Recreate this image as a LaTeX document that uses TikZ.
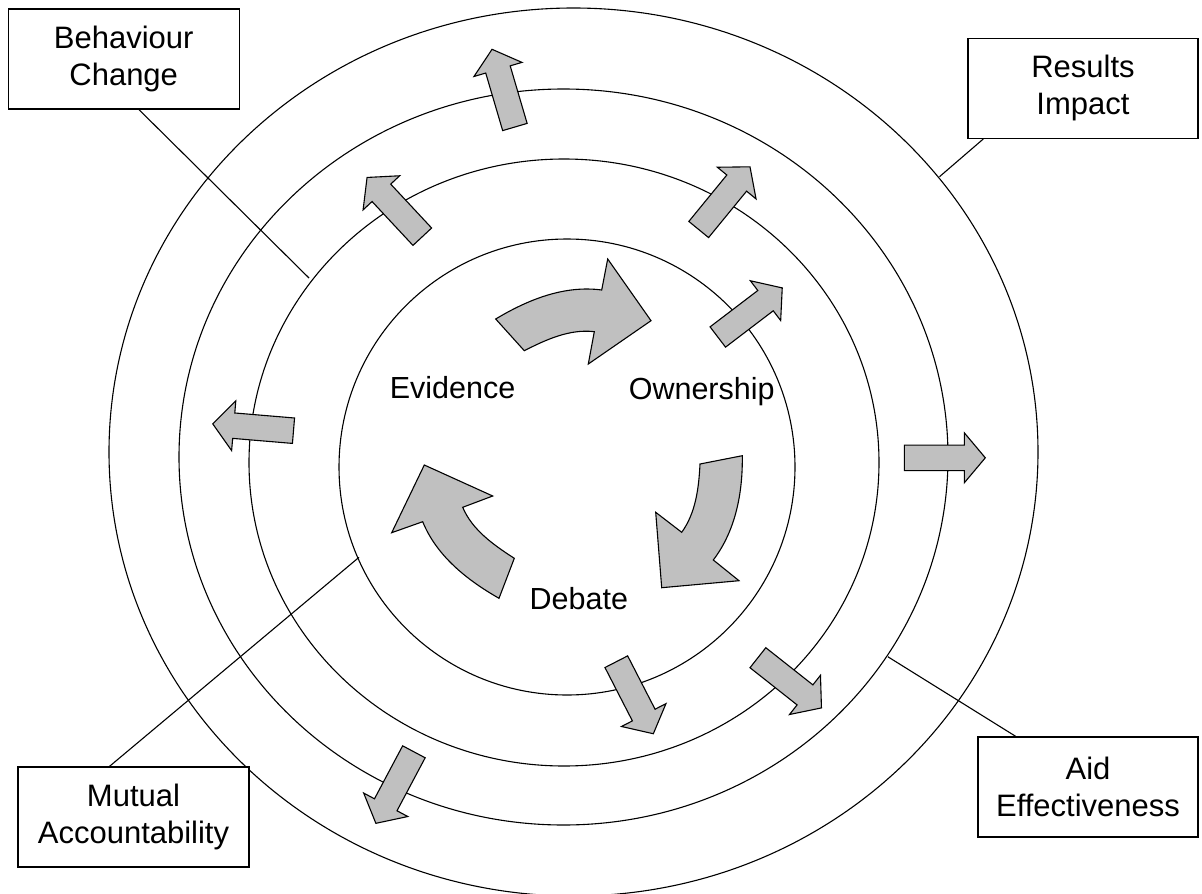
\documentclass[tikz,border=0pt]{standalone}
\usepackage{fontspec}
\setmainfont{Liberation Sans}
\usetikzlibrary{calc}
\definecolor{arrowgray}{HTML}{C0C0C0}
\tikzset{
  ring/.style={draw=black, line width=1.1pt},
  grayarrow/.style={fill=arrowgray, draw=black, line width=1.1pt, line join=miter},
  labelbox/.style={draw=black, fill=white, line width=1.4pt, align=center, inner sep=0pt,
    minimum height=100pt, font=\fontsize{31}{37}\selectfont},
  innerlabel/.style={font=\fontsize{30.5}{36}\selectfont, anchor=base, inner sep=0pt},
  leader/.style={draw=black, line width=1.1pt},
  straightarrow/.pic={\path[grayarrow] (0,-12.75) -- (60,-12.75) -- (60,-25) -- (81,0) -- (60,25) -- (60,12.75) -- (0,12.75) -- cycle;}
}
\begin{document}
\begin{tikzpicture}[x=1pt, y=-1pt]
\useasboundingbox (0,0) rectangle (1202,894);
\fill[white] (0,0) rectangle (1202,894);

% rings
\draw[ring] (567,467) ellipse [x radius=228pt, y radius=228pt];
\draw[ring] (564,462.5) ellipse [x radius=315pt, y radius=303.5pt];
\draw[ring] (563.5,457) ellipse [x radius=384.5pt, y radius=368pt];
\draw[ring] (573.5,452) ellipse [x radius=464.5pt, y radius=444pt];

% boxes
\node[labelbox, minimum width=231pt] (beh) at (123.7,59) {Behaviour\\Change};
\node[labelbox, minimum width=230pt] (res) at (1083,88.3) {Results\\Impact};
\node[labelbox, minimum width=220pt] (aid) at (1088,787) {Aid\\Effectiveness};
\node[labelbox, minimum width=231pt] (mut) at (133.5,817) {Mutual\\Accountability};

% leader line end points on rings
\coordinate (behE) at (309,278);
\coordinate (resE) at (939.5,176.7);
\coordinate (aidE) at (887.8,656.7);
\coordinate (mutE) at (359,557.3);

\draw[leader] ($(beh.south west)!0.566!(beh.south east)$) -- (behE);
\draw[leader] ($(res.south west)!0.069!(res.south east)$) -- (resE);
\draw[leader] ($(aid.north west)!0.173!(aid.north east)$) -- (aidE);
\draw[leader] ($(mut.north west)!0.397!(mut.north east)$) -- (mutE);

% straight outward arrows
\pic[rotate=106.4] (a1) at (514.9,127) {straightarrow};
\pic[rotate=133] (a2) at (422.3,236.7) {straightarrow};
\pic[rotate=175.2] (a3) at (293.5,430.7) {straightarrow};
\pic[rotate=37.3] (a4) at (717.8,337) {straightarrow};
\pic[rotate=50.7] (a5) at (698.7,229.5) {straightarrow};
\pic[rotate=0] (a6) at (904.3,457.8) {straightarrow};
\pic[rotate=-38.3] (a7) at (757.9,657.7) {straightarrow};
\pic[rotate=-62.8] (a8) at (616.3,661.7) {straightarrow};
\pic[rotate=-118] (a9) at (413.9,751.8) {straightarrow};

% curved cycle arrows
\path[grayarrow] (495.7,319) .. controls (528,299.6) and (564.3,285) .. (601.7,290)
  -- (607.7,259) -- (651,320.7) -- (588.3,364) -- (594.3,331.7)
  .. controls (569.9,328.75) and (546.2,339.5) .. (524.3,350.7) -- cycle;
\path[grayarrow] (742.3,455.7) .. controls (742.8,492.7) and (735.7,530.5) .. (713.3,560)
  -- (739,580.7) -- (661.7,587.7) -- (655.7,512.3) -- (681.7,532.3)
  .. controls (695.8,512.8) and (698.8,488) .. (700,464) -- cycle;
\path[grayarrow] (499,598.3) -- (514.3,558.3) .. controls (493.6,544.95) and (472.3,530) .. (462.7,507.3)
  -- (492.7,496) -- (424.3,465) -- (391.7,532.7) -- (422.7,521.7)
  .. controls (436.6,555.9) and (466.95,580) .. (499,598.3) -- cycle;

% inner labels
\node[innerlabel] (ev) at (452.5,398.3) {Evidence};
\node[innerlabel] (ow) at (701.7,399) {Ownership};
\node[innerlabel] (de) at (578.8,609.3) {Debate};
\end{tikzpicture}
\end{document}
